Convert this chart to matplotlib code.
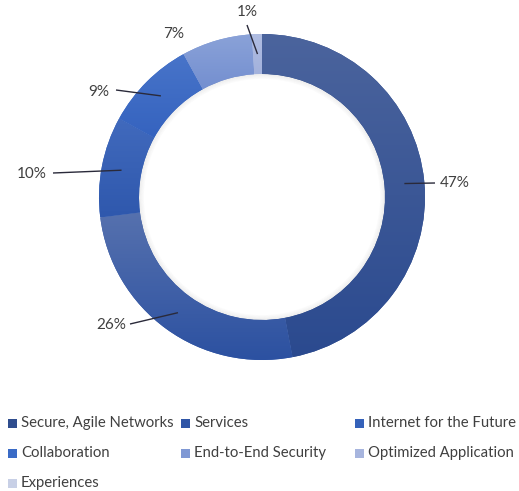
import numpy as np
import matplotlib
matplotlib.use("Agg")
import matplotlib.pyplot as plt
from matplotlib.colors import to_rgb, LinearSegmentedColormap
from matplotlib.patches import Rectangle, Wedge

plt.rcParams['font.family'] = ['Lato', 'DejaVu Sans']

# Portfolio share by category
categories = ["Secure, Agile Networks", "Services", "Internet for the Future",
              "Collaboration", "End-to-End Security", "Optimized Application",
              "Experiences"]
shares = [47, 26, 10, 9, 7, 1, 0]
labels = ["47%", "26%", "10%", "9%", "7%", "1%", ""]

# light (top) and dark (bottom) shade of each segment
top_colors = ["#4b649d", "#5671ae", "#416abd", "#4874c9", "#8aa2d8", "#b0bde2", "#c9d1e7"]
bot_colors = ["#2b4a8f", "#2c51a1", "#2f58ad", "#3563bf", "#748fd0", "#a3b2dc", "#bfc8e2"]
legend_colors = ["#2f4d8e", "#2f55a6", "#3562ba", "#3a6bc6", "#7f98d4", "#a7b5de", "#c8d0e6"]

W, H = 519, 491
fig = plt.figure(figsize=(W / 100, H / 100), dpi=100)
ax = fig.add_axes([0, 0, 1, 1])

cx, cy = 262, H - 197
r_out = 163
ring = 40

wedges, _ = ax.pie(shares, radius=r_out, center=(cx, cy), startangle=90,
                   counterclock=False, colors=legend_colors,
                   wedgeprops=dict(width=ring, linewidth=0))

# vertical light-to-dark shading inside each segment
for w, c0, c1, v in zip(wedges, top_colors, bot_colors, shares):
    if v == 0:
        continue
    ext = w.get_path().get_extents()
    cmap = LinearSegmentedColormap.from_list("g", [to_rgb(c1), to_rgb(c0)])
    grad = np.linspace(0, 1, 256).reshape(-1, 1)
    im = ax.imshow(grad, cmap=cmap, origin="lower", aspect="auto",
                   extent=(ext.x0, ext.x1, ext.y0, ext.y1), zorder=2,
                   interpolation="bilinear")
    im.set_clip_path(w)

# soft shadow just inside the hole
r_in = r_out - ring
for k in range(5):
    ax.add_patch(Wedge((cx, cy), r_in - k, 0, 360, width=1.0,
                       facecolor="#303030", edgecolor="none",
                       alpha=0.08 * (1 - k / 5), zorder=3))

# data labels with leader lines
r_mid = r_out - ring / 2
label_pos = [(440, 183), (96, 325), (17, 174), (88, 92), (163, 34), (237, 12)]
leader = [True, True, True, True, False, True]
angles = 90 - np.cumsum([0] + shares[:-1]) / 100 * 360
for i, (lab, v) in enumerate(zip(labels, shares)):
    if v == 0:
        continue
    mid = np.deg2rad(angles[i] - v / 100 * 360 / 2)
    px, py = cx + r_mid * np.cos(mid), cy + r_mid * np.sin(mid)
    tx, ty = label_pos[i]
    ty = H - ty
    ax.text(tx, ty, lab, ha="left", va="center", fontsize=11, color="#404040", zorder=5)
    if leader[i]:
        if i == 0:
            ex, ey = tx - 5, ty
        elif i == 1:
            ex, ey = tx + 34, ty + 1
        elif i == 2:
            ex, ey = tx + 36, ty + 1
        elif i == 3:
            ex, ey = tx + 28, ty + 2
        else:
            ex, ey = tx + 10, ty - 13
        ax.plot([px, ex], [py, ey], color="#2a2a3a", lw=1.0, zorder=5,
                solid_capstyle="butt")

# legend laid out row by row in three columns
col_x = [8, 181, 355]
row_y = [423, 453, 483]
for i, (name, col) in enumerate(zip(categories, legend_colors)):
    r, c = divmod(i, 3)
    x, y = col_x[c], H - row_y[r]
    ax.add_patch(Rectangle((x, y - 4.5), 9, 9, facecolor=col, edgecolor="none", zorder=5))
    ax.text(x + 13, y, name, ha="left", va="center", fontsize=10.7,
            color="#404040", zorder=5)

ax.set_xlim(0, W)
ax.set_ylim(0, H)
ax.set_aspect("equal")
ax.axis("off")

fig.savefig("out.png", dpi=100)
